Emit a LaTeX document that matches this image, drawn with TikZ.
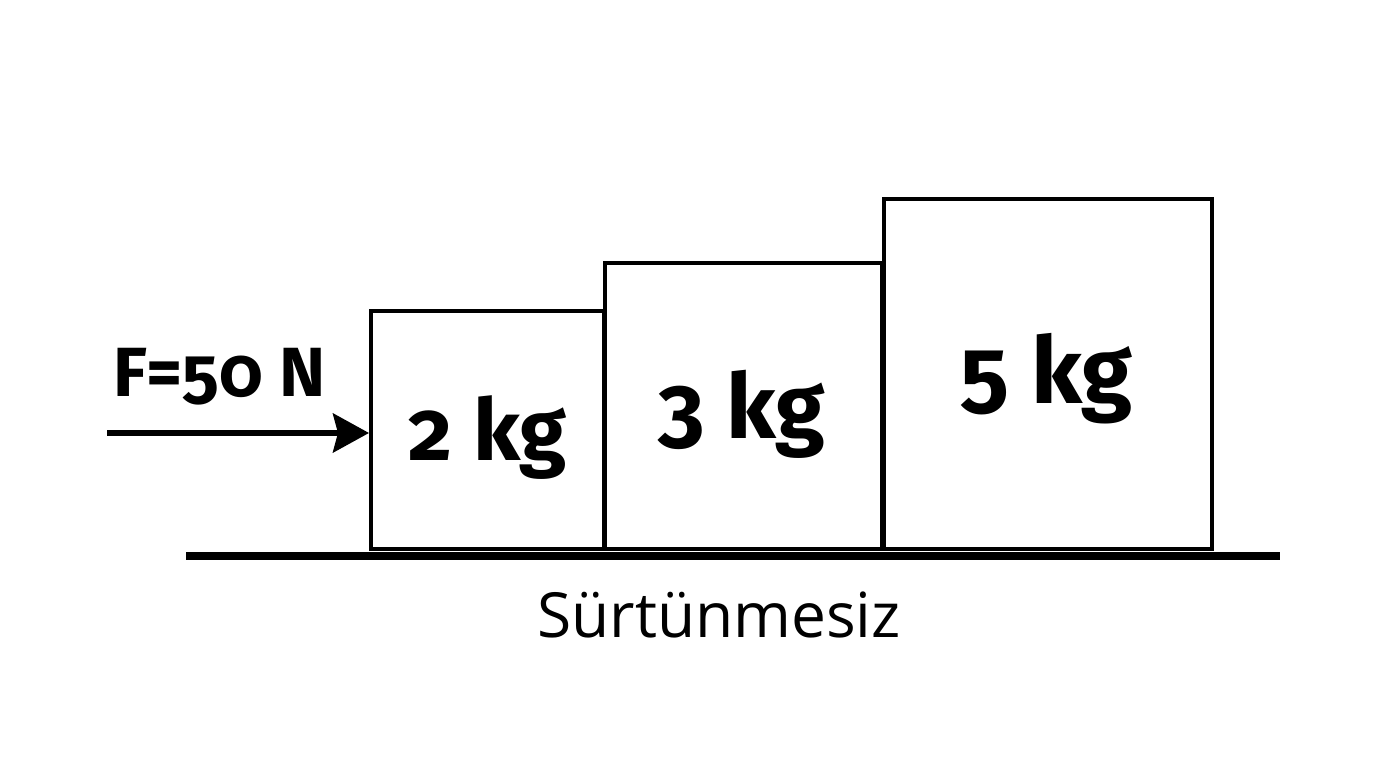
\documentclass[tikz,border=0pt]{standalone}
\usepackage{fontspec}
\setmainfont{Fira Sans}[Numbers=OldStyle]
\newfontfamily\groundfont{Open Sans}
\usepackage{tikz}
\usetikzlibrary{arrows.meta}
\newcommand{\masslabel}[2]{\fontsize{#1}{#1}\selectfont\bfseries #2}

\begin{document}
\begin{tikzpicture}[x=0.01cm,y=-0.01cm,every node/.style={inner sep=0pt},
	block/.style={draw,line width=1.1pt,anchor=south west},
	force/.style={line width=1.5pt,-{Stealth[length=3.6mm,width=3.9mm,inset=0.5mm]}}]
	\useasboundingbox (0,0) rectangle (1376,768);
	
	%blocks
	\node[block,minimum width=2.33cm,minimum height=2.38cm] (m2) at (369,551){};
	\node[block,minimum width=2.77cm,minimum height=2.86cm] (m3) at (603,551){};
	\node[block,minimum width=3.28cm,minimum height=3.50cm] (m5) at (882,551){};
	\node[anchor=base west] (l2) at (408,461){\masslabel{24.3pt}{2 kg}};
	\node[anchor=base west] (l3) at (658,439){\masslabel{25.6pt}{3 kg}};
	\node[anchor=base west] (l5) at (960,404){\masslabel{26.3pt}{5 kg}};
	
	%force
	\coordinate (ftail) at (107,433);
	\draw[force] (ftail) -- (ftail -| m2.west);
	\node[anchor=base west] (flabel) at (113,397){\masslabel{19.8pt}{F=50 N}};
	
	%ground
	\coordinate (gl) at (186,556);
	\coordinate (gr) at (1280,556);
	\draw[line width=2.5pt] (gl) -- (gr);
	\node[anchor=base] (nofric) at (719,638){\groundfont\fontsize{17.7}{17.7}\selectfont Sürtünmesiz};
\end{tikzpicture}
\end{document}
